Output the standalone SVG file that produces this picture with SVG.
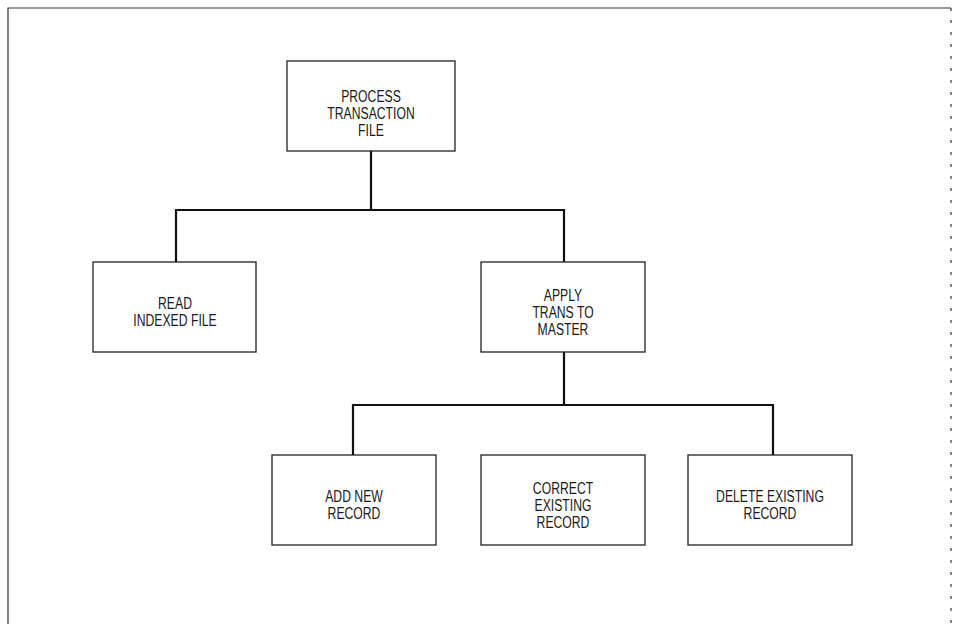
<svg xmlns="http://www.w3.org/2000/svg" width="959" height="624" viewBox="0 0 959 624">
<style>
.box{fill:#fff;stroke:#222;stroke-width:1.3}
.t{font-family:"Liberation Sans",Arial,sans-serif;font-size:16.5px;fill:#1a1a1a;text-anchor:middle}
.c{fill:none;stroke:#111;stroke-width:2.2}
.frame{fill:none;stroke:#333;stroke-width:1.2}
</style>
<rect width="959" height="624" fill="#fff"/>
<path class="frame" d="M8,624 V8 H951"/>
<path class="frame" d="M951,8 V624" stroke-dasharray="3,9"/>
<g id="connectors">
<path class="c" d="M371,151 V210 M176,262 V210 H564 V262"/>
<path class="c" d="M564,352 V405 M353,455 V405 H773 V455"/>
</g>
<g id="process">
<rect class="box" x="287" y="61" width="168" height="90"/>
<g transform="translate(371,5) scale(0.74,1)">
<text class="t" x="0" y="97">PROCESS</text>
<text class="t" x="0" y="114">TRANSACTION</text>
<text class="t" x="0" y="131">FILE</text>
</g>
</g>
<g id="read">
<rect class="box" x="93" y="262" width="163" height="90"/>
<g transform="translate(175,5) scale(0.74,1)">
<text class="t" x="0" y="304">READ</text>
<text class="t" x="0" y="321">INDEXED FILE</text>
</g>
</g>
<g id="apply">
<rect class="box" x="481" y="262" width="164" height="90"/>
<g transform="translate(563,5) scale(0.74,1)">
<text class="t" x="0" y="296">APPLY</text>
<text class="t" x="0" y="313">TRANS TO</text>
<text class="t" x="0" y="330">MASTER</text>
</g>
</g>
<g id="add">
<rect class="box" x="272" y="455" width="164" height="90"/>
<g transform="translate(354,5) scale(0.74,1)">
<text class="t" x="0" y="497">ADD NEW</text>
<text class="t" x="0" y="514">RECORD</text>
</g>
</g>
<g id="correct">
<rect class="box" x="481" y="455" width="164" height="90"/>
<g transform="translate(563,5) scale(0.74,1)">
<text class="t" x="0" y="489">CORRECT</text>
<text class="t" x="0" y="506">EXISTING</text>
<text class="t" x="0" y="523">RECORD</text>
</g>
</g>
<g id="delete">
<rect class="box" x="688" y="455" width="164" height="90"/>
<g transform="translate(770,5) scale(0.74,1)">
<text class="t" x="0" y="497">DELETE EXISTING</text>
<text class="t" x="0" y="514">RECORD</text>
</g>
</g>
</svg>
